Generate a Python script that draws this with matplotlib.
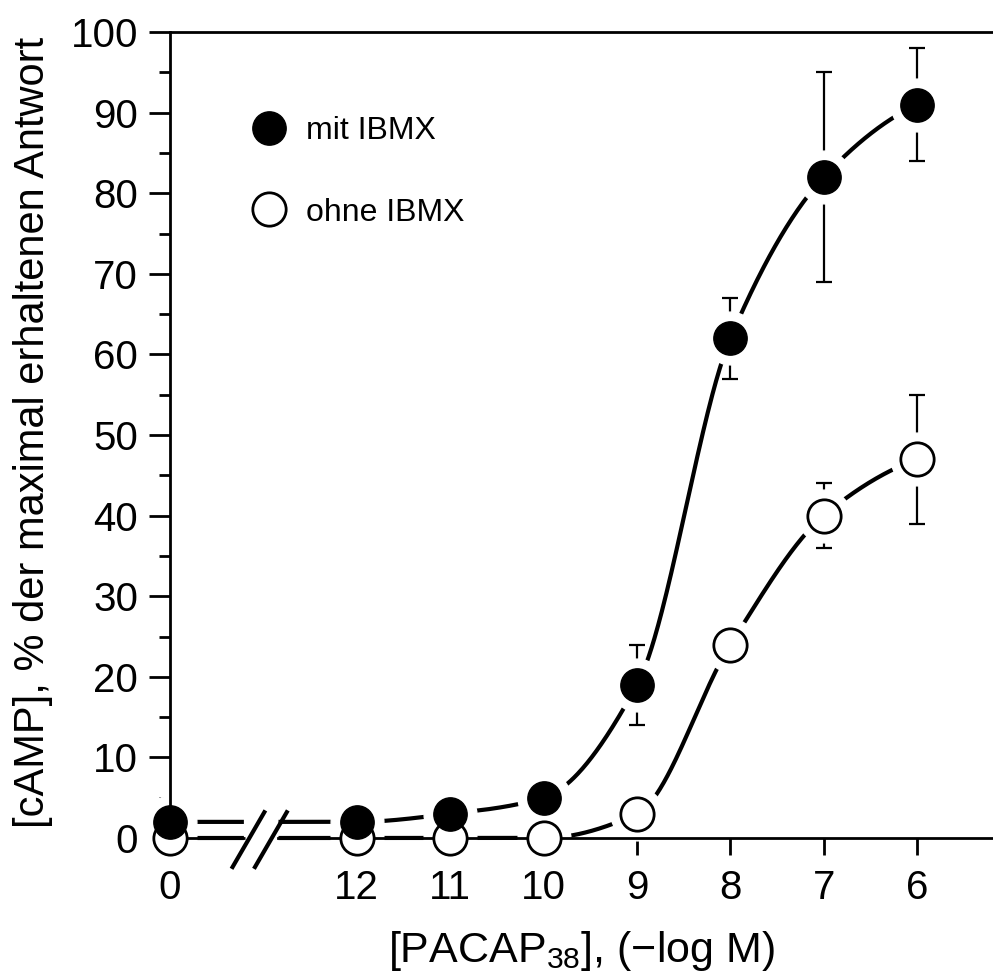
import numpy as np
import matplotlib
matplotlib.use('Agg')
import matplotlib.pyplot as plt

plt.rcParams['font.family'] = ['Liberation Sans', 'DejaVu Sans']
plt.rcParams['mathtext.fontset'] = 'custom'
plt.rcParams['mathtext.rm'] = 'Liberation Sans'
plt.rcParams['mathtext.it'] = 'Liberation Sans:italic'

# ---- data ----
tick_labels = ['0', '12', '11', '10', '9', '8', '7', '6']
positions = [0, 2, 3, 4, 5, 6, 7, 8]          # axis slot of each concentration
mit_mean = [2, 2, 3, 5, 19, 62, 82, 91]
mit_err = [0, 0, 0, 0, 5, 5, 13, 7]
ohne_mean = [0, 0, 0, 0, 3, 24, 40, 47]
ohne_err = [0, 0, 0, 0, 0, 0, 4, 8]

ylabel = '[cAMP], % der maximal erhaltenen Antwort'
xlabel = r'[PACAP$_{\mathrm{38}}$], ($-$log M)'
legend_labels = ['mit IBMX', 'ohne IBMX']


def pchip(x, y, xs):
    x = np.asarray(x, float)
    y = np.asarray(y, float)
    h = np.diff(x)
    d = np.diff(y) / h
    m = np.zeros_like(y)
    for k in range(1, len(x) - 1):
        if d[k - 1] * d[k] > 0:
            w1 = 2 * h[k] + h[k - 1]
            w2 = h[k] + 2 * h[k - 1]
            m[k] = (w1 + w2) / (w1 / d[k - 1] + w2 / d[k])
    m[0] = d[0]
    m[-1] = d[-1] * 0.6
    idx = np.clip(np.searchsorted(x, xs) - 1, 0, len(x) - 2)
    t = (xs - x[idx]) / h[idx]
    h00 = 2 * t**3 - 3 * t**2 + 1
    h10 = t**3 - 2 * t**2 + t
    h01 = -2 * t**3 + 3 * t**2
    h11 = t**3 - t**2
    return (h00 * y[idx] + h10 * h[idx] * m[idx] + h01 * y[idx + 1]
            + h11 * h[idx] * m[idx + 1])


fig = plt.figure(figsize=(9.93, 9.8), dpi=100)
ax = fig.add_axes([170 / 993, 1 - 838 / 980, 1 - 170 / 993, (838 - 32) / 980])

xmax = (993 - 170) / 93.4
ax.set_xlim(0, xmax)
ax.set_ylim(0, 100)

brk_lo, brk_hi = 0.80, 1.16

xs = np.linspace(0, 8, 800)
for mean, z in ((mit_mean, 2.05), (ohne_mean, 2.0)):
    ys = pchip(positions, mean, xs)
    ys = np.where((xs > brk_lo) & (xs < brk_hi), np.nan, ys)
    ax.plot(xs, ys, color='black', lw=3.0, solid_capstyle='butt',
            clip_on=False, zorder=z)

# error bars
for mean, err in ((mit_mean, mit_err), (ohne_mean, ohne_err)):
    p = np.array(positions)
    mm = np.array(mean, float)
    ee = np.array(err, float)
    sel = ee > 0
    ax.errorbar(p[sel], mm[sel], yerr=ee[sel], fmt='none', ecolor='black',
                elinewidth=1.6, capsize=5.5, capthick=1.6, zorder=2)

# white halos (gaps around markers)
ax.plot(positions, ohne_mean, 'o', ms=38, color='white', mec='white',
        clip_on=False, zorder=2.3)
ax.plot(positions, mit_mean, 'o', ms=38, color='white', mec='white',
        clip_on=False, zorder=2.3)

h_ohne, = ax.plot(positions, ohne_mean, 'o', ms=24, mfc='white', mec='black',
                  mew=2.0, ls='none', clip_on=False, zorder=3,
                  label=legend_labels[1])
h_mit, = ax.plot(positions, mit_mean, 'o', ms=24, mfc='black', mec='black',
                 mew=1.0, ls='none', clip_on=False, zorder=3.2,
                 label=legend_labels[0])

# spines
for s in ('left', 'top', 'bottom'):
    ax.spines[s].set_linewidth(2.0)
    ax.spines[s].set_zorder(2.5)
ax.spines['right'].set_visible(False)
ax.spines['bottom'].set_bounds(brk_hi, xmax)
ax.plot([0, brk_lo], [0, 0], color='black', lw=2.0, clip_on=False,
        solid_capstyle='butt', zorder=2.5)
# break marks
for c in (0.84, 1.08):
    ax.plot([c - 0.17, c + 0.17], [-3.6, 3.2], color='black', lw=3.0,
            clip_on=False, zorder=2.6)

ax.set_xticks(positions)
ax.set_xticklabels(tick_labels)
ax.set_yticks(np.arange(0, 101, 10))
ax.set_yticks(np.arange(0, 101, 5), minor=True)
ax.tick_params(axis='both', which='major', direction='out', width=2.0,
               labelsize=29, color='black')
ax.tick_params(axis='y', which='major', length=15, pad=8)
ax.tick_params(axis='y', which='minor', length=8, width=2.0)
ax.tick_params(axis='x', which='major', length=12, pad=10)
ax.tick_params(axis='x', which='minor', bottom=False)

ax.set_ylabel(ylabel, fontsize=30)
ax.yaxis.set_label_coords(-0.142, 0.503)
ax.set_xlabel(xlabel, fontsize=31, labelpad=16)

leg = ax.legend(handles=[h_mit, h_ohne], loc='upper left',
                bbox_to_anchor=(0.097, 0.896), frameon=False, fontsize=23,
                handlelength=1.2, handletextpad=0.55, labelspacing=1.62,
                borderpad=0, borderaxespad=0)

fig.savefig('out.png', dpi=100)
